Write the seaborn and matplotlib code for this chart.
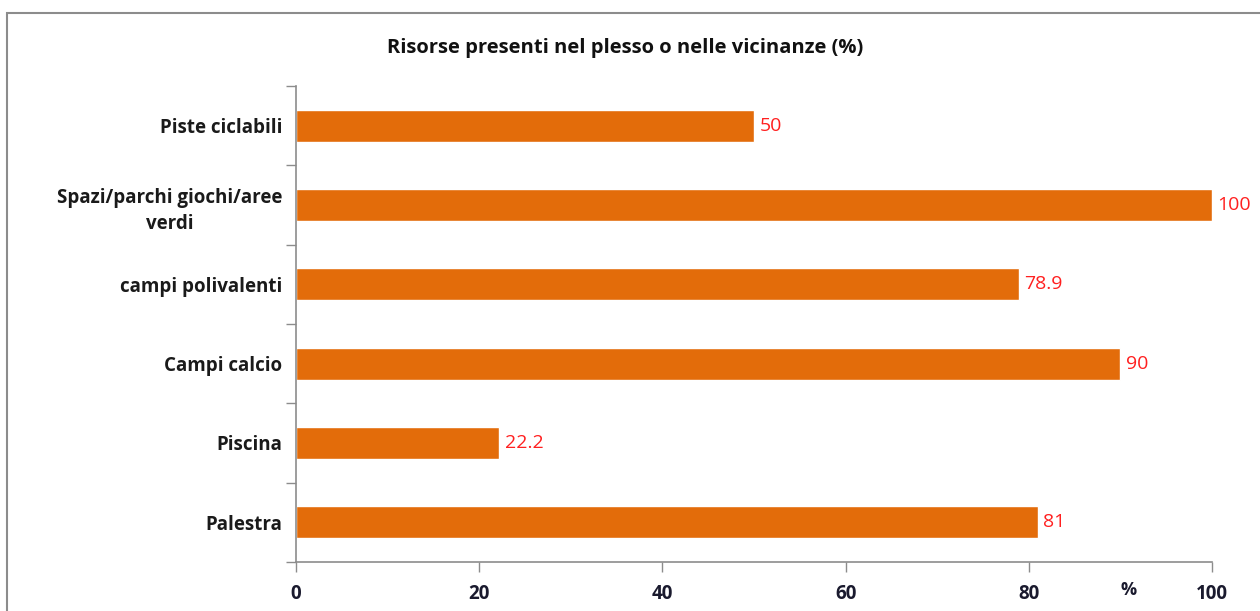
import matplotlib
matplotlib.use("Agg")
import matplotlib.pyplot as plt
import seaborn as sns
import numpy as np
from matplotlib.patches import Rectangle

categories = ["Piste ciclabili", "Spazi/parchi giochi/aree\nverdi", "campi polivalenti",
              "Campi calcio", "Piscina", "Palestra"]
values = [50, 100, 78.9, 90, 22.2, 81]
value_labels = ["50", "100", "78.9", "90", "22.2", "81"]
xticks = [0, 20, 40, 60, 80, 100]
title = "Risorse presenti nel plesso o nelle vicinanze (%)"

sns.set_theme(style="white")
plt.rcParams['font.family'] = ['Open Sans', 'DejaVu Sans']

fig = plt.figure(figsize=(12.6, 6.11), dpi=100)
ax = fig.add_axes([296/1260, 1-562/611, (1212-296)/1260, (562-86)/611])

sns.barplot(x=values, y=categories, orient="h", color="#E36C0A", width=0.4,
            saturation=1, ax=ax)

ax.set_xlim(0, 100)
ax.set_ylim(5.5, -0.5)
ax.set_xticks(xticks)
ax.set_xticklabels([str(t) for t in xticks], fontsize=13.5, fontweight='bold', color='#1a1a2e')
ax.tick_params(axis='x', direction='out', length=7, width=1, color='#8c8c8c', pad=9, bottom=True)
ax.tick_params(axis='y', which='major', length=0, pad=10)
ax.set_yticks(np.arange(-0.5, 6, 1), minor=True)
ax.tick_params(axis='y', which='minor', direction='out', length=7, width=1, color='#8c8c8c', left=True)
for lab in ax.get_yticklabels():
    lab.set_fontsize(13.5)
    lab.set_fontweight('bold')
    lab.set_color('#1a1a1a')
    lab.set_multialignment('center')
    lab.set_linespacing(1.45)

for s in ['top', 'right']:
    ax.spines[s].set_visible(False)
for s in ['left', 'bottom']:
    ax.spines[s].set_color('#8c8c8c')
    ax.spines[s].set_linewidth(1.2)
ax.set_xlabel("")
ax.set_ylabel("")

for i, (v, lab) in enumerate(zip(values, value_labels)):
    ax.text(v + 0.6, i, lab, va='center', ha='left', color='#FF2020', fontsize=14)

ax.text(0.909, -0.04, "%", transform=ax.transAxes, ha='center', va='top',
        fontsize=13, fontweight='bold', color='#1a1a2e')

fig.text(625/1260, 1-48/611, title, ha='center', va='center', fontsize=14.5,
         fontweight='bold', color='#111111')

fig.patches.append(Rectangle((7/1260, -0.1), 1.2, 1-13/611+0.1, transform=fig.transFigure,
                             fill=False, edgecolor='#8c8c8c', linewidth=1.5))

fig.savefig("out.png", dpi=100)
